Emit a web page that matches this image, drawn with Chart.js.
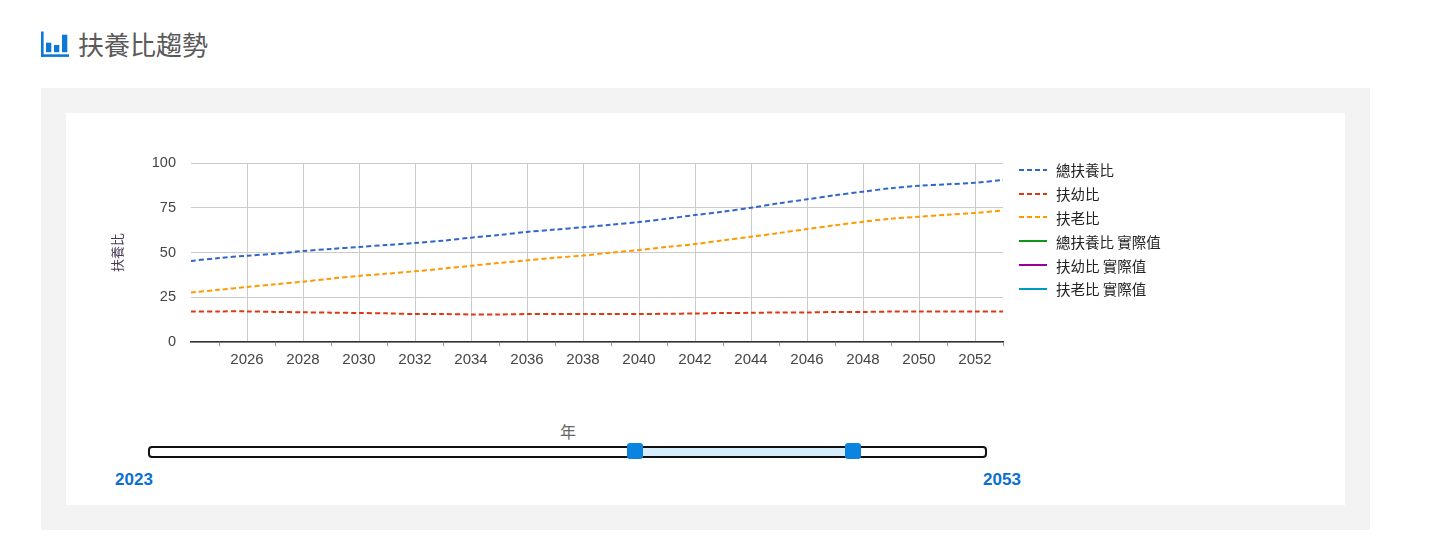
<!DOCTYPE html>
<html>
<head>
<meta charset="utf-8">
<script src="https://cdn.jsdelivr.net/npm/chart.js@4.4.1/dist/chart.umd.min.js"></script>
<style>
  html,body{margin:0;padding:0;background:#fff;width:1435px;height:550px;overflow:hidden;font-family:"Noto Sans CJK TC","Noto Sans",sans-serif;}
  #title{position:absolute;left:78px;top:28px;font-size:26px;line-height:32px;color:#5a5a5a;font-family:"Noto Sans CJK TC",sans-serif;font-weight:400;}
  #icon{position:absolute;left:40px;top:30px;}
  #panel{position:absolute;left:41px;top:88px;width:1329px;height:442px;background:#f3f3f3;}
  #card{position:absolute;left:66px;top:113px;width:1279px;height:392px;background:#fff;}
  #chartwrap{position:absolute;left:66px;top:113px;width:1279px;height:270px;}
  #legend{position:absolute;left:1019px;top:158px;font-size:14.5px;color:#222;}
  .li{height:23.8px;display:flex;align-items:center;white-space:nowrap;}
  .li svg{margin-right:9px;}
  #xtitle{position:absolute;left:548px;top:419px;width:40px;text-align:center;font-size:16px;color:#666;}
  #track{position:absolute;left:148px;top:446px;width:835px;height:8px;border:2px solid #111;border-radius:4px;background:#fff;}
  #fill{position:absolute;top:0;height:8px;background:#d6edfb;}
  .handle{position:absolute;top:443px;width:16px;height:16px;border-radius:3px;background:#0a84de;}
  .ylab{position:absolute;top:470px;font-family:"Liberation Sans",Arial,sans-serif;font-weight:bold;font-size:17px;color:#0a6fcf;width:60px;text-align:center;}
</style>
</head>
<body>
<svg id="icon" width="32" height="30" viewBox="0 0 32 30">
  <rect x="1" y="1.5" width="2.6" height="25.5" fill="#0b78d7"/>
  <rect x="1" y="24.3" width="28" height="2.6" fill="#0b78d7"/>
  <rect x="6" y="12.7" width="5.3" height="9.5" fill="#0b78d7"/>
  <rect x="14" y="15" width="5.3" height="7.2" fill="#0b78d7"/>
  <rect x="22" y="4.7" width="5.3" height="17.5" fill="#0b78d7"/>
</svg>
<div id="title">扶養比趨勢</div>
<div id="panel"></div>
<div id="card"></div>
<div id="chartwrap"><canvas id="c" width="1279" height="270"></canvas></div>
<div id="legend"></div>
<div id="xtitle">年</div>
<div id="track"><div id="fill"></div></div>
<div class="handle" id="h1"></div>
<div class="handle" id="h2"></div>
<div class="ylab" id="lmin"></div>
<div class="ylab" id="lmax"></div>
<script>
// ---- data ----
const years = [2024,2025,2026,2027,2028,2029,2030,2031,2032,2033,2034,2035,2036,2037,2038,2039,2040,2041,2042,2043,2044,2045,2046,2047,2048,2049,2050,2051,2052,2053];
const totalRatio = [45.3,46.9,48.2,49.3,50.8,52.0,53.1,54.2,55.3,56.6,58.3,59.8,61.5,62.8,64.1,65.5,67.0,68.9,70.9,72.8,75.0,77.5,79.7,82.0,84.0,85.9,87.3,88.1,89.0,90.5];
const youngRatio = [17.1,17.1,17.1,16.8,16.6,16.4,16.2,16.0,15.6,15.6,15.4,15.4,15.6,15.6,15.6,15.6,15.6,15.8,15.9,16.2,16.3,16.5,16.5,16.8,16.8,17.0,17.0,17.0,17.1,17.1];
const oldRatio = [27.7,29.2,30.7,32.2,33.7,35.4,36.9,38.2,39.5,41.0,42.6,44.1,45.6,47.1,48.3,49.9,51.4,53.1,54.7,56.8,58.8,60.9,63.1,65.2,67.2,68.9,70.0,71.1,72.1,73.4];
const totalActual = [];
const youngActual = [];
const oldActual = [];
const yTicks = [0,25,50,75,100];
const seriesNames = ["總扶養比","扶幼比","扶老比","總扶養比 實際值","扶幼比 實際值","扶老比 實際值"];
const seriesColors = ["#3366cc","#dc3912","#ff9900","#109618","#990099","#0099c6"];
const sliderMin = 2023, sliderMax = 2053, sliderLow = 2040.4, sliderHigh = 2048.2;

const seriesData = [totalRatio, youngRatio, oldRatio, totalActual, youngActual, oldActual];
const datasets = seriesData.map((d,i)=>({
  label: seriesNames[i],
  data: d,
  borderColor: seriesColors[i],
  backgroundColor: seriesColors[i],
  borderWidth: 2,
  borderDash: i < 3 ? [5,3] : [],
  pointRadius: 0,
  tension: 0.3,
  fill: false
}));

const chart = new Chart(document.getElementById('c'), {
  type: 'line',
  data: { labels: years.map(String), datasets },
  options: {
    responsive: false,
    animation: false,
    devicePixelRatio: 1,
    layout: { padding: { left: 0, right: 342, top: 50, bottom: 0 } },
    plugins: { legend: { display: false }, tooltip: { enabled: false } },
    scales: {
      x: {
        type: 'category',
        offset: false,
        afterFit: s => { s.height = 41; },
        border: { display: true, color: '#333', width: 1.5 },
        grid: {
          drawOnChartArea: true,
          drawTicks: true,
          tickLength: 4,
          color: ctx => { const y = years[ctx.index]; return (y % 2 === 0 && y !== years[0]) ? '#cccccc' : 'rgba(0,0,0,0)'; },
          tickColor: ctx => { const y = years[ctx.index]; return (y % 2 === 1) ? '#999999' : 'rgba(0,0,0,0)'; }
        },
        ticks: {
          autoSkip: false,
          maxRotation: 0,
          padding: 5,
          color: '#444',
          font: { family: '"Liberation Sans", Arial, sans-serif', size: 15 },
          callback: function(v, i) { const y = years[i]; return (y % 2 === 0 && y !== years[0]) ? String(y) : ''; }
        }
      },
      y: {
        min: yTicks[0],
        max: yTicks[yTicks.length-1],
        afterFit: s => { s.width = 125; },
        afterBuildTicks: s => { s.ticks = yTicks.map(v => ({ value: v })); },
        border: { display: false },
        grid: { color: '#cccccc', drawTicks: false },
        ticks: {
          padding: 15,
          color: '#444',
          font: { family: '"Liberation Sans", Arial, sans-serif', size: 14.5 }
        },
        title: {
          display: true,
          text: '扶養比',
          color: '#4a3a55',
          padding: { top: 43, bottom: 0 },
          font: { family: '"Noto Sans CJK TC", sans-serif', size: 13 }
        }
      }
    }
  }
});

// legend
const lg = document.getElementById('legend');
datasets.forEach(ds => {
  const row = document.createElement('div');
  row.className = 'li';
  const dash = ds.borderDash.length ? `stroke-dasharray="${ds.borderDash.join(',')}"` : '';
  row.innerHTML = `<svg width="28" height="4"><line x1="0" y1="2" x2="28" y2="2" stroke="${ds.borderColor}" stroke-width="2" ${dash}/></svg><span>${ds.label}</span>`;
  lg.appendChild(row);
});

// slider
const trackLeft = 148, trackW = 839;
const px = v => trackLeft + (v - sliderMin) / (sliderMax - sliderMin) * trackW;
document.getElementById('h1').style.left = (px(sliderLow) - 8) + 'px';
document.getElementById('h2').style.left = (px(sliderHigh) - 8) + 'px';
const f = document.getElementById('fill');
f.style.left = (px(sliderLow) - trackLeft) + 'px';
f.style.width = (px(sliderHigh) - px(sliderLow)) + 'px';
const lmin = document.getElementById('lmin'), lmax = document.getElementById('lmax');
lmin.textContent = sliderMin; lmin.style.left = (134 - 30) + 'px';
lmax.textContent = sliderMax; lmax.style.left = (1002 - 30) + 'px';
</script>
</body>
</html>
